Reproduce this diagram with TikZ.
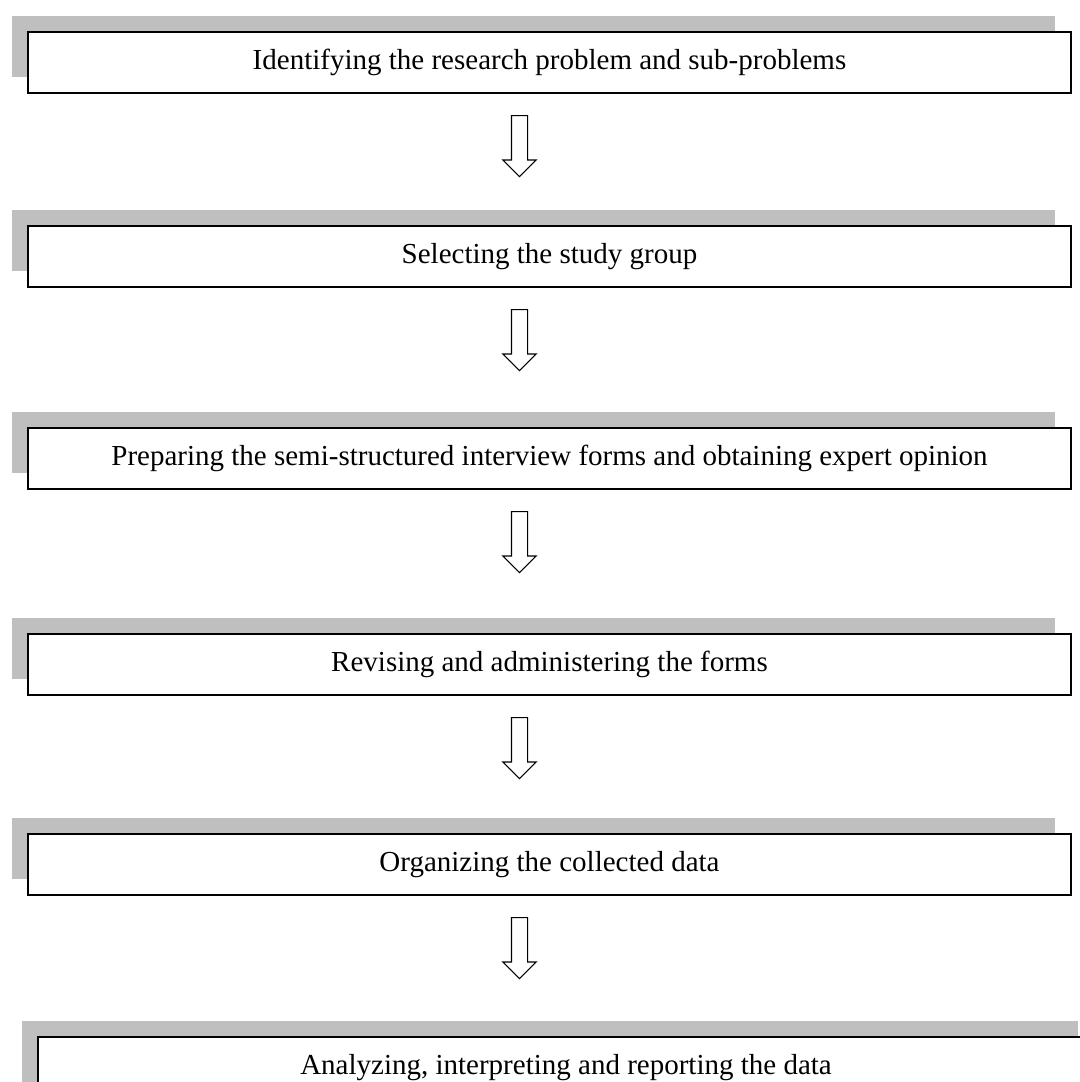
\documentclass[tikz,border=0pt]{standalone}
\usepackage{fontspec}
\setmainfont{Liberation Serif}
\usepackage{tikz}
\usetikzlibrary{positioning, shapes.arrows, shadows}

\begin{document}
\begin{tikzpicture}[
    stage/.style={rectangle, draw, line width=1pt, fill=white, minimum width=521.5pt, minimum height=30.5pt, inner sep=0pt, align=center, font=\fontsize{14.5}{17}\selectfont, general shadow={fill=black!25, shadow xshift=-8pt, shadow yshift=8.25pt}},
    downArrow/.style={single arrow, draw, line width=0.6pt, fill=white, shape border rotate=270, minimum height=30.5pt, inner sep=3.75pt, single arrow head extend=4.25pt}]

  \useasboundingbox (0,0) rectangle (540pt,-541pt);
  \clip (0,0) rectangle (540pt,-541pt);

  \node[stage, anchor=north west] (problem) at (13.5pt,-15.5pt) {Identifying the research problem and sub-problems};
  \node[downArrow, below=10.5pt of problem, xshift=-15pt] (arrow1) {};

  \node[stage, below=65.5pt of problem] (group) {Selecting the study group};
  \node[downArrow, below=10.5pt of group, xshift=-15pt] (arrow2) {};

  \node[stage, below=69.5pt of group] (forms) {Preparing the semi-structured interview forms and obtaining expert opinion};
  \node[downArrow, below=10.5pt of forms, xshift=-15pt] (arrow3) {};

  \node[stage, below=71.5pt of forms] (administer) {Revising and administering the forms};
  \node[downArrow, below=10.5pt of administer, xshift=-15pt] (arrow4) {};

  \node[stage, below=68.5pt of administer] (organize) {Organizing the collected data};
  \node[downArrow, below=10.5pt of organize, xshift=-15pt] (arrow5) {};

  % last box sits a little to the right and runs off the page
  \node[stage, minimum width=528pt, below=70pt of organize, xshift=8.25pt] (report) {Analyzing, interpreting and reporting the data};

\end{tikzpicture}
\end{document}
